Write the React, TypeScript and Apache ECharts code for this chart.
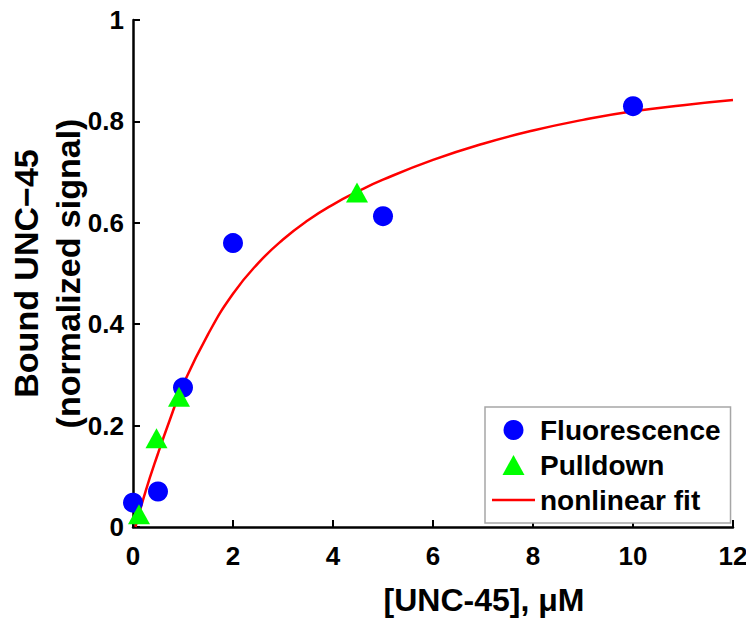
import React, { useEffect, useRef } from "react";
import * as echarts from "echarts";

const fluorescence: [number, number][] = [
  [0, 0.048],
  [0.5, 0.07],
  [1, 0.275],
  [2, 0.56],
  [5, 0.613],
  [10, 0.83],
];

const pulldown: [number, number][] = [
  [0.12, 0.025],
  [0.47, 0.175],
  [0.92, 0.257],
  [4.48, 0.66],
];

const fitCurve: [number, number][] = [
  [0.05, 0],
  [0.25, 0.07],
  [0.5, 0.145],
  [0.75, 0.215],
  [1, 0.28],
  [1.5, 0.38],
  [2, 0.46],
  [2.5, 0.52],
  [3, 0.567],
  [3.5, 0.605],
  [4, 0.636],
  [4.5, 0.662],
  [5, 0.685],
  [6, 0.724],
  [7, 0.756],
  [8, 0.782],
  [9, 0.803],
  [10, 0.82],
  [11, 0.832],
  [12, 0.842],
];

const seriesNames = ["Fluorescence", "Pulldown", "nonlinear fit"];
const xTitle = "[UNC-45], \u03bcM";
const yTitle = "Bound UNC\u221245\n(normalized signal)";

const FONT = "'Liberation Sans', Arial, Helvetica, sans-serif";

export default function App() {
  const ref = useRef<HTMLDivElement>(null);
  useEffect(() => {
    if (!ref.current) return;
    const chart = echarts.init(ref.current, undefined, { renderer: "svg" });
    const axisLine = { show: true, lineStyle: { color: "#000", width: 2.5 } };
    chart.setOption({
      animation: false,
      backgroundColor: "#fff",
      textStyle: { fontFamily: FONT },
      grid: { left: 133, right: 13, top: 20, bottom: 96, containLabel: false, outerBoundsMode: "none" },
      xAxis: {
        type: "value",
        min: 0,
        max: 12,
        interval: 2,
        name: xTitle,
        nameLocation: "middle",
        nameGap: 57,
        nameMoveOverlap: false,
        nameTextStyle: {
          fontFamily: FONT,
          fontSize: 32,
          fontWeight: "bold",
          color: "#000",
          padding: [0, 0, 0, 102],
        },
        axisLine,
        axisTick: { show: true, inside: true, length: 7, lineStyle: { color: "#000", width: 2 } },
        axisLabel: { fontFamily: FONT, fontSize: 26, fontWeight: "bold", color: "#000", margin: 16 },
        splitLine: { show: false },
      },
      yAxis: {
        type: "value",
        min: 0,
        max: 1,
        interval: 0.2,
        name: yTitle,
        nameLocation: "middle",
        nameGap: 44,
        nameMoveOverlap: false,
        nameTextStyle: {
          fontFamily: FONT,
          fontSize: 34,
          fontWeight: "bold",
          color: "#000",
          lineHeight: 42,
        },
        axisLine,
        axisTick: { show: true, inside: true, length: 7, lineStyle: { color: "#000", width: 2 } },
        axisLabel: { fontFamily: FONT, fontSize: 26, fontWeight: "bold", color: "#000", margin: 9 },
        splitLine: { show: false },
      },
      legend: {
        orient: "vertical",
        left: 485,
        top: 407,
        padding: [9, 10, 9, 7],
        itemWidth: 43,
        itemHeight: 20,
        itemGap: 7,
        borderColor: "#a6a6a6",
        borderWidth: 1.5,
        backgroundColor: "#fff",
        textStyle: { fontFamily: FONT, fontSize: 28, fontWeight: "bold", color: "#000" },
        data: [
          { name: seriesNames[0], icon: "circle" },
          { name: seriesNames[1], icon: "path://M11,0 L22,20 L0,20 Z" },
          { name: seriesNames[2], icon: "path://M0,0 L43,0 L43,2.5 L0,2.5 Z" },
        ],
      },
      series: [
        {
          name: seriesNames[2],
          type: "line",
          data: fitCurve,
          smooth: true,
          showSymbol: false,
          symbol: "none",
          lineStyle: { color: "#ff0000", width: 2.5 },
          itemStyle: { color: "#ff0000" },
          z: 2,
        },
        {
          name: seriesNames[0],
          type: "scatter",
          data: fluorescence,
          symbol: "circle",
          symbolSize: 20,
          itemStyle: { color: "#0000ff", opacity: 1 },
          z: 3,
        },
        {
          name: seriesNames[1],
          type: "scatter",
          data: pulldown,
          symbol: "triangle",
          symbolSize: [22, 20],
          itemStyle: { color: "#00ff00", opacity: 1 },
          z: 4,
        },
      ],
    });
    return () => chart.dispose();
  }, []);
  return <div ref={ref} style={{ width: 746, height: 623, position: "absolute", left: 0, top: 0 }} />;
}
